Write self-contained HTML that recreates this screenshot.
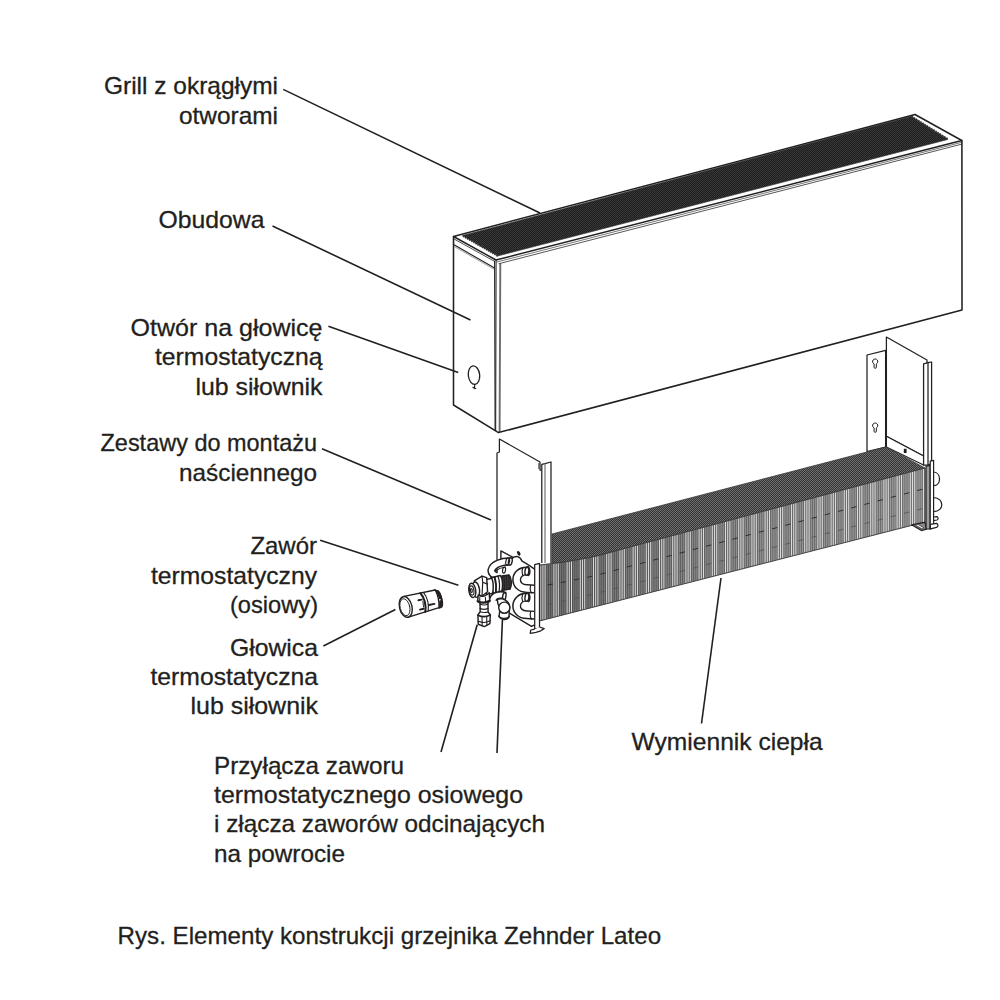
<!DOCTYPE html>
<html lang="pl"><head><meta charset="utf-8"><title>Elementy konstrukcji grzejnika Zehnder Lateo</title>
<style>html,body{margin:0;padding:0;background:#fff}body{width:1000px;height:1000px;overflow:hidden}svg{display:block}text{font-family:"Liberation Sans",Arial,sans-serif;font-size:24px;fill:#231f20;stroke:#231f20;stroke-width:0.3px}</style>
</head><body>
<svg width="1000" height="1000" viewBox="0 0 1000 1000">
<defs>
<pattern id="grillp" width="2" height="2" patternUnits="userSpaceOnUse">
<rect width="2" height="2" fill="#1f1f1f"/>
<rect x="0" y="0" width="1" height="1" fill="#3a3a3a"/>
<rect x="1" y="1" width="1" height="1" fill="#343434"/>
</pattern>
<pattern id="topp" width="2" height="2" patternUnits="userSpaceOnUse">
<rect width="2" height="2" fill="#333"/>
<rect x="0" y="0" width="1" height="1" fill="#747474"/>
<rect x="1" y="1" width="1" height="1" fill="#6c6c6c"/>
</pattern>
<linearGradient id="fing" x1="540" y1="0" x2="925" y2="0" gradientUnits="userSpaceOnUse">
<stop offset="0" stop-color="#000" stop-opacity="0.26"/>
<stop offset="0.3" stop-color="#000" stop-opacity="0.14"/>
<stop offset="0.6" stop-color="#000" stop-opacity="0.02"/>
<stop offset="1" stop-color="#fff" stop-opacity="0.06"/>
</linearGradient>
</defs>

<rect width="1000" height="1000" fill="#fff"/>
<!-- ===== casing (obudowa) ===== -->
<g fill="#fff" stroke="none">
<polygon points="496,260 961.8,140.5 962,310 498.5,432.6"/>
<polygon points="453.5,236.5 496,260 498.5,432.6 453.5,405"/>
<polygon points="453.5,236.5 915,114.5 961.8,140.5 496,260"/>
</g>
<!-- grill -->
<polygon points="462.6,235.5 910.9,116.5 912.7,116.0 913.0,117.8 914.8,117.4 915.2,119.2 917.0,118.7 917.4,120.5 919.2,120.1 919.5,121.9 921.3,121.5 921.7,123.3 923.5,122.8 923.9,124.6 925.7,124.2 926.0,126.0 927.8,125.5 928.2,127.3 930.0,126.9 930.4,128.7 932.1,128.2 932.5,130.0 934.3,129.6 934.7,131.4 936.5,130.9 936.9,132.7 938.6,132.3 939.0,134.1 940.8,133.6 941.2,135.4 943.0,135.0 943.4,136.8 945.1,136.3 945.5,138.1 947.3,137.7 947.7,139.5 498.4,255.8 496.7,256.4 496.3,254.6 494.6,255.1 494.2,253.4 492.5,253.9 492.1,252.2 490.4,252.7 490.0,251.0 488.3,251.5 487.9,249.8 486.2,250.3 485.8,248.6 484.1,249.1 483.7,247.4 482.0,247.9 481.6,246.2 479.9,246.7 479.5,245.0 477.8,245.5 477.4,243.8 475.7,244.3 475.3,242.5 473.6,243.1 473.2,241.3 471.5,241.9 471.1,240.1 469.4,240.7 469.0,238.9 467.3,239.5 466.9,237.7 465.2,238.3 464.8,236.5 463.1,237.1 462.7,235.3" fill="url(#grillp)" stroke="#262626" stroke-width="0.6"/>

<g fill="none" stroke="#231f20" stroke-linejoin="round" stroke-linecap="round">
<!-- corner edge (soft grey) -->
<line x1="500.3" y1="264" x2="499.6" y2="431.4" stroke-width="1.9" stroke="#6c6c6c"/>
<!-- top lip lines -->
<line x1="497" y1="262" x2="961.8" y2="142.3" stroke-width="0.8" stroke="#555"/>
<line x1="499" y1="263.7" x2="961.8" y2="144.1" stroke-width="0.9" stroke="#444"/>
<!-- outlines -->
<path d="M453.5,236.5 L915,114.5 L961.8,140.5 L496,260 Z" stroke-width="1.45"/>
<path d="M961.9,140.5 L962,310 L498.5,432.6 L453.5,405 L453.5,236.5" stroke-width="1.55"/>
<line x1="453.5" y1="238.7" x2="494.5" y2="261.3" stroke-width="0.8"/>
<line x1="454" y1="244.8" x2="494.6" y2="268" stroke-width="1.1"/>
<line x1="454" y1="246.4" x2="494.6" y2="269.6" stroke-width="0.7" stroke="#777"/>
<line x1="494.6" y1="261" x2="495.1" y2="430.2" stroke-width="1.1"/>
<line x1="496.1" y1="260.3" x2="495.7" y2="430.6" stroke-width="1"/>
<!-- hole -->
<ellipse cx="474" cy="375.2" rx="5.7" ry="9.3" stroke-width="1.3" transform="rotate(-6 474 375.2)"/>
<path d="M474.9,384.4 L474.2,388.6 M472.8,387.2 L475.8,388.6" stroke-width="1.1"/>
</g>
<!-- ===== right wall bracket ===== -->
<g fill="#fff" stroke="#231f20" stroke-width="1.25" stroke-linejoin="round">
<!-- back plate with keyholes -->
<polygon points="867,355 885.6,350.3 885.6,447.2 867,451.5"/>
<!-- side plate -->
<polygon points="886.4,337 927,360 927,363 923.6,364 923.6,456 886.4,436.2"/>
<!-- lower strip of side plate -->
<polygon points="886.4,436.2 923.6,456 923.6,465 886.4,447"/>
<!-- flange -->
<polygon points="923.6,364 928,362.6 931.6,362 931.6,463.5 928,465 923.6,465"/>
<line x1="928" y1="362.6" x2="928" y2="465"/>
</g>
<g fill="#fff" stroke="#231f20" stroke-width="1">
<path d="M874.10,363.95 A2.6,2.6 0 1 1 876.30,363.95 L876.35,367.20 A1.15,1.15 0 0 1 874.05,367.20 Z"/>
<path d="M874.10,427.95 A2.6,2.6 0 1 1 876.30,427.95 L876.35,431.20 A1.15,1.15 0 0 1 874.05,431.20 Z"/>
<rect x="903.8" y="448.8" width="2.8" height="4.2" fill="#231f20" stroke="none"/>
</g>
<!-- ===== left wall bracket ===== -->
<g fill="#fff" stroke="#231f20" stroke-width="1.25" stroke-linejoin="round">
<polygon points="499.4,439 540,462 540,470 541.8,470 541.8,575 497,575 497,453 499.4,452" stroke="none"/>
<path d="M497,572 L497,453 L499.4,452 L499.4,439 L540,462 L540,470 L541.8,470" fill="none"/>
<polygon points="541.8,464.4 545,463.6 551,462 551,563 541.8,563" stroke="none"/>
<path d="M541.8,563 L541.8,464.4 L545,463.6 L551,462 L551,563" fill="none"/>
<line x1="545" y1="463.6" x2="545" y2="563" stroke="#777"/>
<line x1="538.8" y1="463" x2="538.8" y2="469" stroke-width="0.8"/>
</g>
<!-- ===== heat exchanger ===== -->
<!-- top face -->
<polygon points="552,534 886,447 925,468 680,533.6 630,547 600,555.2 590,557.5 565,562 552,563.5" fill="url(#topp)" stroke="#3a3a3a" stroke-width="0.8"/>
<!-- front face -->
<polygon points="539.5,565 565,562 590,557.5 600,555.2 630,547 680,533.6 925,468 925,522 539.5,621" fill="#7b7b7b"/>
<path d="M541.8,565.1 V620.0 M544.0,564.9 V619.4 M546.2,564.6 V618.9 M548.4,564.4 V618.3 M550.6,564.1 V617.7 M552.8,563.8 V617.2 M555.0,563.6 V616.6 M557.2,563.3 V616.1 M559.4,563.1 V615.5 M561.6,562.8 V614.9 M563.8,562.5 V614.4 M566.0,562.2 V613.8 M568.2,561.8 V613.2 M570.4,561.4 V612.7 M572.6,561.0 V612.1 M574.8,560.6 V611.5 M577.0,560.2 V611.0 M579.2,559.8 V610.4 M581.4,559.4 V609.8 M583.6,559.1 V609.3 M585.8,558.7 V608.7 M588.0,558.3 V608.1 M590.2,557.9 V607.6 M592.4,557.3 V607.0 M594.6,556.8 V606.4 M596.8,556.3 V605.9 M599.0,555.8 V605.3 M601.2,555.3 V604.8 M603.4,554.7 V604.2 M605.6,554.1 V603.6 M607.8,553.5 V603.1 M610.0,552.9 V602.5 M612.2,552.3 V601.9 M614.4,551.7 V601.4 M616.6,551.1 V600.8 M618.8,550.5 V600.2 M621.0,549.9 V599.7 M623.2,549.3 V599.1 M625.4,548.7 V598.5 M627.6,548.1 V598.0 M629.8,547.5 V597.4 M632.0,546.9 V596.8 M634.2,546.3 V596.3 M636.4,545.7 V595.7 M638.6,545.1 V595.2 M640.8,544.5 V594.6 M643.0,543.9 V594.0 M645.2,543.3 V593.5 M647.4,542.7 V592.9 M649.6,542.1 V592.3 M651.8,541.6 V591.8 M654.0,541.0 V591.2 M656.2,540.4 V590.6 M658.4,539.8 V590.1 M660.6,539.2 V589.5 M662.8,538.6 V588.9 M665.0,538.0 V588.4 M667.2,537.4 V587.8 M669.4,536.8 V587.2 M671.6,536.3 V586.7 M673.8,535.7 V586.1 M676.0,535.1 V585.5 M678.2,534.5 V585.0 M680.4,533.9 V584.4 M682.6,533.3 V583.9 M684.8,532.7 V583.3 M687.0,532.1 V582.7 M689.2,531.5 V582.2 M691.4,530.9 V581.6 M693.6,530.4 V581.0 M695.8,529.8 V580.5 M698.0,529.2 V579.9 M700.2,528.6 V579.3 M702.4,528.0 V578.8 M704.6,527.4 V578.2 M706.8,526.8 V577.6 M709.0,526.2 V577.1 M711.2,525.6 V576.5 M713.4,525.1 V575.9 M715.6,524.5 V575.4 M717.8,523.9 V574.8 M720.0,523.3 V574.2 M722.2,522.7 V573.7 M724.4,522.1 V573.1 M726.6,521.5 V572.6 M728.8,520.9 V572.0 M731.0,520.3 V571.4 M733.2,519.8 V570.9 M735.4,519.2 V570.3 M737.6,518.6 V569.7 M739.8,518.0 V569.2 M742.0,517.4 V568.6 M744.2,516.8 V568.0 M746.4,516.2 V567.5 M748.6,515.6 V566.9 M750.8,515.0 V566.3 M753.0,514.5 V565.8 M755.2,513.9 V565.2 M757.4,513.3 V564.6 M759.6,512.7 V564.1 M761.8,512.1 V563.5 M764.0,511.5 V562.9 M766.2,510.9 V562.4 M768.4,510.3 V561.8 M770.6,509.7 V561.3 M772.8,509.2 V560.7 M775.0,508.6 V560.1 M777.2,508.0 V559.6 M779.4,507.4 V559.0 M781.6,506.8 V558.4 M783.8,506.2 V557.9 M786.0,505.6 V557.3 M788.2,505.0 V556.7 M790.4,504.4 V556.2 M792.6,503.9 V555.6 M794.8,503.3 V555.0 M797.0,502.7 V554.5 M799.2,502.1 V553.9 M801.4,501.5 V553.3 M803.6,500.9 V552.8 M805.8,500.3 V552.2 M808.0,499.7 V551.6 M810.2,499.1 V551.1 M812.4,498.5 V550.5 M814.6,498.0 V550.0 M816.8,497.4 V549.4 M819.0,496.8 V548.8 M821.2,496.2 V548.3 M823.4,495.6 V547.7 M825.6,495.0 V547.1 M827.8,494.4 V546.6 M830.0,493.8 V546.0 M832.2,493.2 V545.4 M834.4,492.7 V544.9 M836.6,492.1 V544.3 M838.8,491.5 V543.7 M841.0,490.9 V543.2 M843.2,490.3 V542.6 M845.4,489.7 V542.0 M847.6,489.1 V541.5 M849.8,488.5 V540.9 M852.0,487.9 V540.3 M854.2,487.4 V539.8 M856.4,486.8 V539.2 M858.6,486.2 V538.7 M860.8,485.6 V538.1 M863.0,485.0 V537.5 M865.2,484.4 V537.0 M867.4,483.8 V536.4 M869.6,483.2 V535.8 M871.8,482.6 V535.3 M874.0,482.1 V534.7 M876.2,481.5 V534.1 M878.4,480.9 V533.6 M880.6,480.3 V533.0 M882.8,479.7 V532.4 M885.0,479.1 V531.9 M887.2,478.5 V531.3 M889.4,477.9 V530.7 M891.6,477.3 V530.2 M893.8,476.8 V529.6 M896.0,476.2 V529.0 M898.2,475.6 V528.5 M900.4,475.0 V527.9 M902.6,474.4 V527.4 M904.8,473.8 V526.8 M907.0,473.2 V526.2 M909.2,472.6 V525.7 M911.4,472.0 V525.1 M913.6,471.5 V524.5 M915.8,470.9 V524.0 M918.0,470.3 V523.4 M920.2,469.7 V522.8 M922.4,469.1 V522.3" fill="none" stroke="#5f5f5f" stroke-width="0.6"/>
<path d="M547.3,564.5 V618.6 M549.5,564.2 V618.0 M551.7,564.0 V617.5 M560.5,562.9 V615.2 M562.7,562.7 V614.6 M564.9,562.4 V614.1 M573.7,560.8 V611.8 M575.9,560.4 V611.3 M578.1,560.0 V610.7 M586.9,558.5 V608.4 M589.1,558.1 V607.9 M591.3,557.6 V607.3 M600.1,555.6 V605.0 M602.3,555.0 V604.5 M604.5,554.4 V603.9 M613.3,552.0 V601.6 M615.5,551.4 V601.1 M617.7,550.8 V600.5 M626.5,548.4 V598.3 M628.7,547.8 V597.7 M630.9,547.2 V597.1 M639.7,544.8 V594.9 M641.9,544.2 V594.3 M644.1,543.6 V593.7 M652.9,541.3 V591.5 M655.1,540.7 V590.9 M657.3,540.1 V590.3 M666.1,537.7 V588.1 M668.3,537.1 V587.5 M670.5,536.5 V587.0 M679.3,534.2 V584.7 M681.5,533.6 V584.1 M683.7,533.0 V583.6 M692.5,530.7 V581.3 M694.7,530.1 V580.7 M696.9,529.5 V580.2 M705.7,527.1 V577.9 M707.9,526.5 V577.4 M710.1,525.9 V576.8 M718.9,523.6 V574.5 M721.1,523.0 V574.0 M723.3,522.4 V573.4 M732.1,520.0 V571.1 M734.3,519.5 V570.6 M736.5,518.9 V570.0 M745.3,516.5 V567.7 M747.5,515.9 V567.2 M749.7,515.3 V566.6 M758.5,513.0 V564.4 M760.7,512.4 V563.8 M762.9,511.8 V563.2 M771.7,509.4 V561.0 M773.9,508.9 V560.4 M776.1,508.3 V559.8 M784.9,505.9 V557.6 M787.1,505.3 V557.0 M789.3,504.7 V556.4 M798.1,502.4 V554.2 M800.3,501.8 V553.6 M802.5,501.2 V553.1 M811.3,498.8 V550.8 M813.5,498.3 V550.2 M815.7,497.7 V549.7 M824.5,495.3 V547.4 M826.7,494.7 V546.8 M828.9,494.1 V546.3 M837.7,491.8 V544.0 M839.9,491.2 V543.5 M842.1,490.6 V542.9 M850.9,488.2 V540.6 M853.1,487.7 V540.1 M855.3,487.1 V539.5 M864.1,484.7 V537.2 M866.3,484.1 V536.7 M868.5,483.5 V536.1 M877.3,481.2 V533.8 M879.5,480.6 V533.3 M881.7,480.0 V532.7 M890.5,477.6 V530.5 M892.7,477.0 V529.9 M894.9,476.5 V529.3 M903.7,474.1 V527.1 M905.9,473.5 V526.5 M908.1,472.9 V525.9 M916.9,470.6 V523.7 M919.1,470.0 V523.1 M921.3,469.4 V522.6" fill="none" stroke="#9c9c9c" stroke-width="0.9"/>
<polygon points="539.5,565 565,562 590,557.5 600,555.2 630,547 680,533.6 925,468 925,522 539.5,621" fill="url(#fing)"/>
<path d="M540.7,565.3 V620.3 M542.9,565.0 V619.7 M545.1,564.7 V619.2 M553.9,563.7 V616.9 M556.1,563.4 V616.3 M558.3,563.2 V615.8 M567.1,562.0 V613.5 M569.3,561.6 V612.9 M571.5,561.2 V612.4 M580.3,559.6 V610.1 M582.5,559.2 V609.6 M584.7,558.9 V609.0 M593.5,557.1 V606.7 M595.7,556.6 V606.2 M597.9,556.1 V605.6 M606.7,553.8 V603.3 M608.9,553.2 V602.8 M611.1,552.6 V602.2 M619.9,550.2 V600.0 M622.1,549.6 V599.4 M624.3,549.0 V598.8 M633.1,546.6 V596.6 M635.3,546.0 V596.0 M637.5,545.4 V595.4 M646.3,543.0 V593.2 M648.5,542.4 V592.6 M650.7,541.9 V592.0 M659.5,539.5 V589.8 M661.7,538.9 V589.2 M663.9,538.3 V588.7 M672.7,536.0 V586.4 M674.9,535.4 V585.8 M677.1,534.8 V585.3 M685.9,532.4 V583.0 M688.1,531.8 V582.4 M690.3,531.2 V581.9 M699.1,528.9 V579.6 M701.3,528.3 V579.0 M703.5,527.7 V578.5 M712.3,525.4 V576.2 M714.5,524.8 V575.7 M716.7,524.2 V575.1 M725.5,521.8 V572.8 M727.7,521.2 V572.3 M729.9,520.6 V571.7 M738.7,518.3 V569.4 M740.9,517.7 V568.9 M743.1,517.1 V568.3 M751.9,514.7 V566.1 M754.1,514.2 V565.5 M756.3,513.6 V564.9 M765.1,511.2 V562.7 M767.3,510.6 V562.1 M769.5,510.0 V561.5 M778.3,507.7 V559.3 M780.5,507.1 V558.7 M782.7,506.5 V558.1 M791.5,504.1 V555.9 M793.7,503.6 V555.3 M795.9,503.0 V554.8 M804.7,500.6 V552.5 M806.9,500.0 V551.9 M809.1,499.4 V551.4 M817.9,497.1 V549.1 M820.1,496.5 V548.5 M822.3,495.9 V548.0 M831.1,493.5 V545.7 M833.3,493.0 V545.1 M835.5,492.4 V544.6 M844.3,490.0 V542.3 M846.5,489.4 V541.8 M848.7,488.8 V541.2 M857.5,486.5 V538.9 M859.7,485.9 V538.4 M861.9,485.3 V537.8 M870.7,482.9 V535.5 M872.9,482.4 V535.0 M875.1,481.8 V534.4 M883.9,479.4 V532.2 M886.1,478.8 V531.6 M888.3,478.2 V531.0 M897.1,475.9 V528.8 M899.3,475.3 V528.2 M901.5,474.7 V527.6 M910.3,472.3 V525.4 M912.5,471.7 V524.8 M914.7,471.2 V524.2 M923.5,468.8 V522.0" fill="none" stroke="#e6e6e6" stroke-width="0.9"/>
<path d="M547.6,584.9 L552.9,584.0 M560.8,582.6 L566.1,581.7 M574.0,580.0 L579.3,578.9 M587.2,577.3 L592.5,576.1 M600.4,574.2 L605.7,572.8 M613.6,570.7 L618.9,569.3 M626.8,567.1 L632.1,565.7 M640.0,563.7 L645.3,562.3 M653.2,560.2 L658.5,558.8 M666.4,556.7 L671.7,555.3 M679.6,553.2 L684.9,551.8 M692.8,549.7 L698.1,548.3 M706.0,546.2 L711.3,544.9 M719.2,542.8 L724.5,541.4 M732.4,539.3 L737.7,537.9 M745.6,535.8 L750.9,534.4 M758.8,532.3 L764.1,530.9 M772.0,528.9 L777.3,527.5 M785.2,525.4 L790.5,524.0 M798.4,521.9 L803.7,520.5 M811.6,518.4 L816.9,517.0 M824.8,514.9 L830.1,513.5 M838.0,511.5 L843.3,510.1 M851.2,508.0 L856.5,506.6 M864.4,504.5 L869.7,503.1 M877.6,501.0 L882.9,499.6 M890.8,497.5 L896.1,496.1 M904.0,494.1 L909.3,492.7 M917.2,490.6 L922.5,489.2" fill="none" stroke="#2e2e2e" stroke-width="1"/>
<path d="M547.6,604.7 L552.9,603.5 M560.8,601.7 L566.1,600.6 M574.0,598.7 L579.3,597.4 M587.2,595.6 L592.5,594.3 M600.4,592.3 L605.7,590.9 M613.6,588.8 L618.9,587.5 M626.8,585.4 L632.1,584.0 M640.0,582.0 L645.3,580.6 M653.2,578.5 L658.5,577.2 M666.4,575.1 L671.7,573.7 M679.6,571.7 L684.9,570.3 M692.8,568.3 L698.1,566.9 M706.0,564.8 L711.3,563.4 M719.2,561.4 L724.5,560.0 M732.4,558.0 L737.7,556.6 M745.6,554.5 L750.9,553.2 M758.8,551.1 L764.1,549.7 M772.0,547.7 L777.3,546.3 M785.2,544.3 L790.5,542.9 M798.4,540.8 L803.7,539.5 M811.6,537.4 L816.9,536.0 M824.8,534.0 L830.1,532.6 M838.0,530.6 L843.3,529.2 M851.2,527.1 L856.5,525.7 M864.4,523.7 L869.7,522.3 M877.6,520.3 L882.9,518.9 M890.8,516.8 L896.1,515.5 M904.0,513.4 L909.3,512.0 M917.2,510.0 L922.5,508.6" fill="none" stroke="#505050" stroke-width="0.8"/>
<polygon points="539.5,565 565,562 590,557.5 600,555.2 630,547 680,533.6 925,468 925,522 539.5,621" fill="none" stroke="#3a3a3a" stroke-width="0.9"/>

<!-- right end plate -->
<g fill="#fff" stroke="#231f20" stroke-width="1.2" stroke-linejoin="round">
<path d="M925,522.4 L911.5,524.8 L921.4,530.6 L926.5,529.2 Z" fill="#8a8a8a"/>
<path d="M914.6,525 L918,524.4 L924,528 L921.4,529 Z M916.2,525.6 L921.8,528.6" fill="#fff" stroke-width="0.6"/>
<polygon points="926,466.2 930.2,465.4 930.2,529 926,529" fill="#9c9c9c"/>
<polygon points="930.2,465.4 930.2,461.2 933.6,460.4 933.6,527.6 930.2,529"/>
<path d="M933.6,472 C941.5,472.5 941.5,485.5 933.6,485.6" fill="none"/>
<path d="M933.6,497.5 C944.5,498 944.5,511.5 933.6,511.6" fill="none"/>
<path d="M933.6,517 L937,516.6 C938.4,517.4 938.4,519.4 937,520 L933.6,520.6 Z"/>
<path d="M930.4,524.4 L936.6,523.4 C938.4,524.2 938.4,526.6 936.6,527.4 L930.4,528.8 Z"/>
</g>

<!-- ===== valve group (local units: 1 = 0.09px) ===== -->
<g transform="translate(455 540) scale(0.09)" fill="#fff" stroke="#231f20" stroke-width="16" stroke-linejoin="round" stroke-linecap="round">
<!-- small mounting bracket -->
<path d="M510,235 L510,122 L668,205"/>
<!-- connector block behind pipes -->
<path d="M640,205 C670,170 720,180 745,235 C790,260 850,300 880,320 L880,560 L640,560 Z" stroke="none"/>
<path d="M628,212 C670,165 722,180 745,235 C790,260 850,300 880,320" fill="none"/>
<!-- tiny dark screw -->
<ellipse cx="708" cy="148" rx="17" ry="28" transform="rotate(-28 708 148)" fill="#231f20" stroke="none"/>
<!-- bottom bracket -->
<path d="M600,810 L850,960 L880,945 L880,560 L600,560 Z" stroke="none"/>
<path d="M600,810 L850,960 L880,945" fill="none"/>
<!-- upper C bend -->
<path d="M810,345 C650,330 640,540 800,540 L880,545" fill="none" stroke-width="100" stroke-linecap="butt"/>
<path d="M816,345 C650,330 640,540 800,540 L890,545" fill="none" stroke="#fff" stroke-width="68" stroke-linecap="butt"/>
<ellipse cx="800" cy="345" rx="22" ry="46" transform="rotate(8 800 345)"/>
<path d="M812,302 C832,320 834,368 816,390" fill="none" stroke-width="24"/>
<path d="M752,312 C742,335 742,365 752,392" fill="none" stroke-width="13"/>
<path d="M840,505 C832,530 834,565 846,590" fill="none" stroke-width="13"/>
<!-- lower C bend -->
<path d="M810,635 C650,620 640,830 800,830 L880,835" fill="none" stroke-width="100" stroke-linecap="butt"/>
<path d="M816,635 C650,620 640,830 800,830 L890,835" fill="none" stroke="#fff" stroke-width="68" stroke-linecap="butt"/>
<ellipse cx="800" cy="635" rx="22" ry="46" transform="rotate(8 800 635)"/>
<path d="M812,592 C832,610 834,658 816,680" fill="none" stroke-width="24"/>
<path d="M752,602 C742,625 742,655 752,682" fill="none" stroke-width="13"/>
<path d="M840,795 C832,820 834,855 846,880" fill="none" stroke-width="13"/>
<!-- lower-left arch (partly hidden) -->
<path d="M560,620 C500,600 440,610 420,660" fill="none" stroke-width="90" stroke-linecap="butt"/>
<path d="M566,622 C500,600 440,610 420,664" fill="none" stroke="#fff" stroke-width="56" stroke-linecap="butt"/>
<ellipse cx="548" cy="625" rx="18" ry="40" transform="rotate(10 548 625)"/>
<!-- upper-left arch pipe -->
<path d="M615,238 C520,235 420,270 405,335 C400,365 430,395 470,400" fill="none" stroke-width="90" stroke-linecap="butt"/>
<path d="M622,238 C520,235 420,270 405,335 C400,365 430,395 476,400" fill="none" stroke="#fff" stroke-width="58" stroke-linecap="butt"/>
<ellipse cx="615" cy="238" rx="20" ry="42" transform="rotate(10 615 238)"/>
<ellipse cx="585" cy="241" rx="20" ry="42" transform="rotate(10 585 241)" fill="none" stroke-width="13"/>
<path d="M450,345 C480,320 520,305 560,300" fill="none" stroke-width="13"/>
<ellipse cx="545" cy="335" rx="16" ry="34" transform="rotate(10 545 335)" stroke-width="13"/>
<!-- elbow with ball -->
<path d="M470,660 C470,700 480,730 500,760 L490,850 C520,900 590,890 600,850 L605,760 C620,700 560,660 520,650 Z"/>
<circle cx="548" cy="752" r="62"/>
<path d="M486,845 C500,880 590,880 603,848" fill="none"/>
<!-- threaded section + collar -->
<path d="M520,400 L600,388 C630,420 635,500 612,545 L530,560 Z" fill="#3c3c3c"/>
<path d="M545,398 L552,556 M570,394 L578,551 M595,390 L604,546" fill="none" stroke-width="11"/>
<!-- ring nut -->
<path d="M398,420 L505,395 C530,430 535,520 520,565 L425,590 C405,540 395,470 398,420 Z"/>
<path d="M440,410 C455,460 460,530 455,582" fill="none" stroke-width="22"/><path d="M478,402 C495,450 498,520 490,573" fill="none" stroke-width="14"/>
<!-- valve body -->
<path d="M340,440 L410,425 C425,470 428,540 418,590 L350,610 Z"/>
<!-- hex nut -->
<path d="M215,455 L300,402 L352,418 L362,575 L300,622 L232,598 Z"/>
<path d="M300,402 L308,470 L362,490 M308,470 L300,622" fill="none" stroke-width="13"/>
<!-- cap -->
<path d="M180,482 L232,470 L240,640 L195,640 Z" stroke="none"/>
<ellipse cx="232" cy="552" rx="40" ry="86" transform="rotate(-8 232 552)"/>
<ellipse cx="192" cy="560" rx="38" ry="80" transform="rotate(-8 192 560)"/>
<ellipse cx="186" cy="561" rx="24" ry="52" transform="rotate(-8 186 561)" stroke-width="13"/>
<ellipse cx="182" cy="562" rx="10" ry="22" transform="rotate(-8 182 562)" stroke-width="13"/>
<!-- down branch -->
<path d="M258,610 C300,640 350,625 380,585 L386,676 L366,700 L368,800 L392,832 L388,928 L326,962 L258,936 L255,832 L280,797 L278,700 L252,680 Z"/>
<path d="M252,680 C290,702 350,700 386,676" fill="none" stroke-width="26"/>
<path d="M278,712 C300,722 345,722 366,712 M279,760 C300,770 345,770 367,760 M280,797 C305,806 345,806 368,800" fill="none" stroke-width="13"/>
<path d="M255,836 C300,858 350,856 392,834" fill="none" stroke-width="20"/>
<path d="M256,900 C300,922 350,920 389,898" fill="none" stroke-width="13"/>
<path d="M300,850 L302,952 M352,848 L354,946 M275,640 L275,684 M338,636 L340,694" fill="none" stroke-width="12"/>
</g>

<!-- left end plate -->
<g fill="#fff" stroke="#231f20" stroke-width="1.25" stroke-linejoin="round">
<polygon points="534.7,564.6 539.5,563.4 539.5,628 534.7,629.2"/>
<path d="M534.7,629.2 L530.8,630 L530.2,633.4 L536,632.4 L540,631.2 L544.2,628.6 L539.5,627"/>
</g>

<!-- ===== thermostatic head (local units: 1 = 0.08px) ===== -->
<g transform="translate(380 570) scale(0.08)" fill="#fff" stroke="#231f20" stroke-width="18" stroke-linejoin="round" stroke-linecap="round">
<!-- rear ring -->
<path d="M682,250 L722,262 C760,300 785,380 768,440 L738,472 Z" />
<ellipse cx="735" cy="365" rx="34" ry="105" transform="rotate(-14 735 365)" stroke-width="24"/>
<path d="M694,262 C730,300 750,330 752,352 M756,392 C760,420 752,450 740,466" fill="none" stroke-width="30"/>
<path d="M700,300 L728,292 M720,440 L748,432" fill="none" stroke-width="18"/>
<!-- body -->
<path d="M300,330 L690,250 C720,300 745,400 738,470 L345,592 C260,560 220,400 300,330 Z"/>
<!-- band -->
<path d="M505,290 C555,340 580,440 566,524" fill="none" stroke-width="26"/>
<path d="M545,282 C594,340 616,440 602,512" fill="none" stroke-width="14"/>
<!-- front face -->
<ellipse cx="322" cy="462" rx="78" ry="132" transform="rotate(-14 322 462)"/>
<ellipse cx="312" cy="465" rx="60" ry="108" transform="rotate(-14 312 465)" stroke-width="11"/>
<!-- marks -->
<path d="M480,378 L520,370 M500,495 L545,484 M610,438 L680,424" fill="none" stroke-width="24"/>
<path d="M536,395 L546,470" fill="none" stroke-width="14" stroke-dasharray="14 12"/>
</g>

<g fill="none" stroke="#231f20" stroke-width="1.6" stroke-linecap="butt">
<line x1="283.2" y1="89.4" x2="540" y2="213"/>
<line x1="272.5" y1="226" x2="470.5" y2="320"/>
<line x1="328.4" y1="326.2" x2="458.2" y2="372.4"/>
<line x1="322" y1="448.8" x2="491" y2="520"/>
<line x1="320.2" y1="540.2" x2="458.4" y2="585.2"/>
<line x1="323.4" y1="646" x2="395.4" y2="609.5"/>
<line x1="441" y1="752" x2="477.2" y2="624.8"/>
<line x1="497" y1="753" x2="502.4" y2="620"/>
<line x1="721" y1="578" x2="701.5" y2="723.5"/>
</g>
<g>
<text x="278" y="93.8" text-anchor="end" textLength="174" lengthAdjust="spacingAndGlyphs">Grill z okrągłymi</text>
<text x="278" y="123.8" text-anchor="end" textLength="99" lengthAdjust="spacingAndGlyphs">otworami</text>
<text x="264.5" y="227.8" text-anchor="end" textLength="106" lengthAdjust="spacingAndGlyphs">Obudowa</text>
<text x="322.5" y="335.6" text-anchor="end" textLength="192" lengthAdjust="spacingAndGlyphs">Otwór na głowicę</text>
<text x="322.5" y="365.3" text-anchor="end" textLength="167.5" lengthAdjust="spacingAndGlyphs">termostatyczną</text>
<text x="322.5" y="394.8" text-anchor="end" textLength="127" lengthAdjust="spacingAndGlyphs">lub siłownik</text>
<text x="317" y="451.3" text-anchor="end" textLength="216.5" lengthAdjust="spacingAndGlyphs">Zestawy do montażu</text>
<text x="317" y="481.3" text-anchor="end" textLength="138" lengthAdjust="spacingAndGlyphs">naściennego</text>
<text x="317" y="553.8" text-anchor="end" textLength="66.6" lengthAdjust="spacingAndGlyphs">Zawór</text>
<text x="317" y="583.7" text-anchor="end" textLength="166" lengthAdjust="spacingAndGlyphs">termostatyczny</text>
<text x="318" y="612.8" text-anchor="end" textLength="88" lengthAdjust="spacingAndGlyphs">(osiowy)</text>
<text x="318" y="655.7" text-anchor="end" textLength="88" lengthAdjust="spacingAndGlyphs">Głowica</text>
<text x="318" y="684.8" text-anchor="end" textLength="167.5" lengthAdjust="spacingAndGlyphs">termostatyczna</text>
<text x="318" y="713.9" text-anchor="end" textLength="127.5" lengthAdjust="spacingAndGlyphs">lub siłownik</text>
<text x="214" y="773.5" text-anchor="start" textLength="190" lengthAdjust="spacingAndGlyphs">Przyłącza zaworu</text>
<text x="214" y="802.9" text-anchor="start" textLength="309" lengthAdjust="spacingAndGlyphs">termostatycznego osiowego</text>
<text x="214" y="832.3" text-anchor="start" textLength="331" lengthAdjust="spacingAndGlyphs">i złącza zaworów odcinających</text>
<text x="214" y="861.5" text-anchor="start" textLength="131" lengthAdjust="spacingAndGlyphs">na powrocie</text>
<text x="631.6" y="749.9" text-anchor="start" textLength="191" lengthAdjust="spacingAndGlyphs">Wymiennik ciepła</text>
<text x="117.6" y="943.6" text-anchor="start" textLength="543.5" lengthAdjust="spacingAndGlyphs">Rys. Elementy konstrukcji grzejnika Zehnder Lateo</text>
</g>
</svg></body></html>
